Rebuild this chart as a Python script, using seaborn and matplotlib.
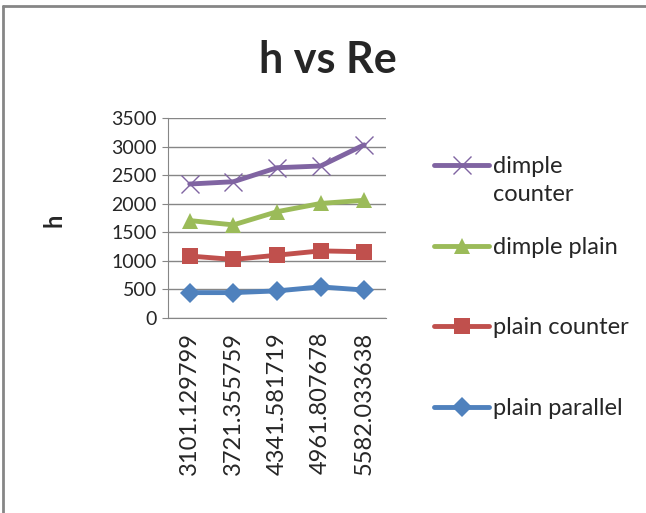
import pandas as pd
import matplotlib
matplotlib.use('Agg')
import matplotlib.pyplot as plt
import seaborn as sns
from matplotlib.lines import Line2D

# Re values (category labels) and h for each configuration
re_values = ['3101.129799', '3721.355759', '4341.581719', '4961.807678', '5582.033638']
dimple_counter = [2345, 2385, 2630, 2660, 3030]
dimple_plain = [1705, 1630, 1860, 2005, 2060]
plain_counter = [1085, 1025, 1100, 1175, 1160]
plain_parallel = [445, 445, 475, 545, 490]

series_names = ['dimple counter', 'dimple plain', 'plain counter', 'plain parallel']
series_values = [dimple_counter, dimple_plain, plain_counter, plain_parallel]
colors = ['#8064A2', '#9BBB59', '#C0504D', '#4F81BD']
markers = ['x', '^', 's', 'D']
marker_sizes = [13, 12, 11, 10]

sns.set_style('white')
plt.rcParams['font.family'] = ['Lato', 'DejaVu Sans']

fig = plt.figure(figsize=(6.46, 5.13), dpi=100)
ax = fig.add_axes([0.260, 0.380, 0.3375, 0.390])

# one seaborn call per series (mixing 'x' with filled markers is not allowed in one call)
for name, vals, c, m, ms in zip(series_names, series_values, colors, markers, marker_sizes):
    df = pd.DataFrame({'Re': re_values, 'h': vals})
    sns.lineplot(data=df, x='Re', y='h', color=c, marker=m, markersize=ms,
                 markeredgewidth=1.0 if m == 'x' else 0, markeredgecolor=c,
                 linewidth=3.5, sort=False, label=name, ax=ax)

ax.set_xlim(-0.5, 4.5)
ax.set_ylim(0, 3500)
ax.set_yticks(range(0, 3501, 500))
ax.yaxis.grid(True, color='#868686', linewidth=1)
ax.set_axisbelow(True)
for side in ['top', 'right']:
    ax.spines[side].set_visible(False)
for side in ['left', 'bottom']:
    ax.spines[side].set_color('#868686')
ax.tick_params(axis='y', length=4, color='#868686', labelsize=14, pad=4, left=True)
ax.set_xticks(range(len(re_values)))
ax.set_xticklabels(re_values)
ax.tick_params(axis='x', length=0, labelsize=17, rotation=90, pad=10)

ax.set_xlabel('')
ax.set_ylabel('h', fontsize=17, fontweight='bold', rotation=90)
ax.yaxis.set_label_coords(-0.47, 0.49)

fig.text(0.508, 1 - 60 / 513, 'h vs Re', ha='center', va='center',
         fontsize=31, fontweight='bold')

# legend: first label wraps onto a second line
handles, labels = ax.get_legend_handles_labels()
ax.get_legend().remove()
leg_labels = ['dimple', 'dimple plain', 'plain counter', 'plain parallel']
leg = fig.legend(handles, leg_labels, loc='upper left',
                 bbox_to_anchor=(0.657, 1 - 147 / 513), frameon=False,
                 fontsize=17, handlelength=2.35, handletextpad=0.15,
                 labelspacing=2.52, borderaxespad=0)
fig.canvas.draw()
ax.annotate('counter', xy=(0, 0), xycoords=leg.get_texts()[0],
            xytext=(0, -5), textcoords='offset points', va='top', ha='left',
            fontsize=17)

# outer chart border (left and top edges only)
fig.add_artist(Line2D([3 / 646, 3 / 646], [0, 1 - 6 / 513], transform=fig.transFigure,
                      color='#868686', linewidth=2))
fig.add_artist(Line2D([3 / 646, 1], [1 - 6 / 513, 1 - 6 / 513], transform=fig.transFigure,
                      color='#868686', linewidth=2))

plt.savefig('out.png', dpi=100)
